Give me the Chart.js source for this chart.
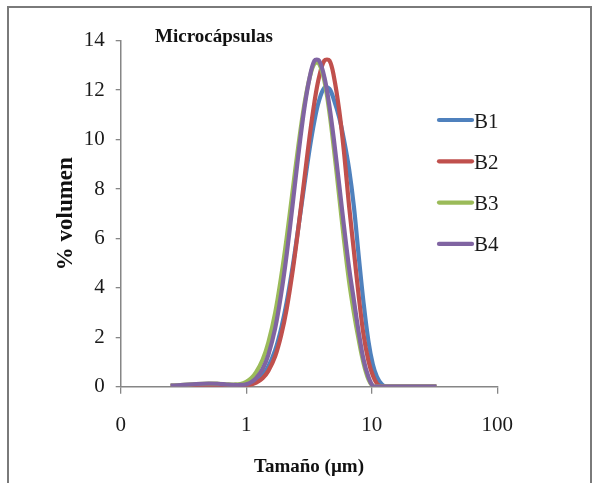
<!DOCTYPE html>
<html>
<head>
<meta charset="utf-8">
<script src="https://cdn.jsdelivr.net/npm/chart.js@4.4.1/dist/chart.umd.min.js"></script>
<style>
body { margin: 0; background: #fff; }
#ChartBox { position: relative; width: 597px; height: 483px; }
</style>
</head>
<body>
<div id="ChartBox"><canvas id="graphCanvas"></canvas></div>
<script>
// particle size classes (µm)
const sizes = [0.25, 0.3, 0.4, 0.5, 0.6, 0.7, 0.8, 0.9, 1.0, 1.1, 1.2, 1.35, 1.5, 1.7, 1.9, 2.1, 2.35, 2.6, 2.9, 3.2,
               3.5, 3.8, 4.2, 4.6, 5.0, 5.5, 6.0, 6.6, 7.2, 7.9, 8.6, 9.4, 10.2, 11, 12, 13, 15, 20, 26, 32.7];

// % volumen per class
const b1 = [0.03, 0.03, 0.04, 0.05, 0.05, 0.05, 0.04, 0.04, 0.07, 0.14, 0.24, 0.47, 0.82, 1.48, 2.37, 3.42, 4.90, 6.43, 8.14, 9.63,
            10.78, 11.57, 12.1, 12.05, 11.6, 10.9, 10.0, 8.8, 7.3, 5.2, 3.4, 1.85, 0.9, 0.4, 0.1, 0, 0, 0, 0, 0];
const b2 = [0.03, 0.03, 0.04, 0.05, 0.05, 0.05, 0.04, 0.04, 0.04, 0.09, 0.16, 0.34, 0.64, 1.23, 2.09, 3.15, 4.72, 6.41, 8.37, 10.14,
            11.54, 12.52, 13.2, 13.2, 12.53, 11.19, 9.53, 7.30, 5.50, 3.60, 2.10, 1.05, 0.45, 0.12, 0, 0, 0, 0, 0, 0];
const b3 = [0.04, 0.06, 0.11, 0.13, 0.12, 0.10, 0.09, 0.11, 0.20, 0.35, 0.59, 1.09, 1.79, 2.99, 4.47, 6.03, 7.99, 9.74, 11.40, 12.50,
            13.08, 13.08, 12.36, 11.10, 9.60, 7.71, 5.97, 4.25, 3.00, 1.85, 0.95, 0.30, 0.02, 0, 0, 0, 0, 0, 0, 0];
const b4 = [0.04, 0.06, 0.11, 0.13, 0.12, 0.09, 0.07, 0.07, 0.10, 0.19, 0.35, 0.72, 1.29, 2.36, 3.77, 5.35, 7.43, 9.37, 11.24, 12.51,
            13.2, 13.2, 12.51, 11.35, 9.97, 8.18, 6.51, 4.80, 3.51, 2.15, 1.10, 0.40, 0.03, 0, 0, 0, 0, 0, 0, 0];

const seriesNames = ['B1', 'B2', 'B3', 'B4'];
const seriesValues = [b1, b2, b3, b4];
const seriesColors = ['#4F81BD', '#C0504D', '#9BBB59', '#8064A2'];

const xTicks = [0.1, 1, 10, 100];
const xTickLabels = ['0', '1', '10', '100'];

const serif = "'Liberation Serif', 'Times New Roman', serif";
const axisGray = '#868686';

const datasets = seriesNames.map((name, k) => ({
    label: name,
    data: sizes.map((s, i) => ({ x: s, y: seriesValues[k][i] })),
    borderColor: seriesColors[k],
    backgroundColor: seriesColors[k],
    borderWidth: 4.2,
    pointRadius: 0,
    fill: false,
    tension: 0.35,
    order: seriesNames.length - k   // B4 drawn on top
}));

// white page + grey frame
const framePlugin = {
    id: 'frame',
    beforeDraw(chart) {
        const c = chart.ctx;
        c.save();
        c.fillStyle = '#fff';
        c.fillRect(0, 0, chart.width, chart.height);
        c.strokeStyle = '#7a7a7a';
        c.lineWidth = 2;
        c.strokeRect(8, 7, 583, 520);
        c.restore();
    }
};

// chart title inside the plot + legend on the right
const overlayPlugin = {
    id: 'overlay',
    afterDraw(chart) {
        const c = chart.ctx;
        c.save();
        c.fillStyle = '#111';
        c.font = 'bold 19px ' + serif;
        c.textAlign = 'left';
        c.textBaseline = 'alphabetic';
        c.fillText('Microcápsulas', 155, 42);

        c.font = '21px ' + serif;
        c.textBaseline = 'middle';
        seriesNames.forEach((name, k) => {
            const y = 120 + k * 41.3;
            c.strokeStyle = seriesColors[k];
            c.lineWidth = 4.2;
            c.lineCap = 'round';
            c.beginPath();
            c.moveTo(439, y);
            c.lineTo(472, y);
            c.stroke();
            c.fillStyle = '#1a1a1a';
            c.fillText(name, 474, y + 2);
        });
        c.restore();
    }
};

const ctx = document.getElementById('graphCanvas');
const myChart = new Chart(ctx, {
    type: 'line',
    data: { datasets: datasets },
    options: {
        responsive: true,
        maintainAspectRatio: false,
        animation: false,
        layout: { padding: { top: 40.7, right: 99.7, left: 0, bottom: 0 } },
        plugins: {
            legend: { display: false },
            tooltip: { enabled: false }
        },
        scales: {
            x: {
                type: 'logarithmic',
                min: 0.1,
                max: 100,
                afterBuildTicks: (scale) => { scale.ticks = xTicks.map(v => ({ value: v })); },
                afterFit: (scale) => { scale.height = 96.3; },
                ticks: {
                    autoSkip: false,
                    maxRotation: 0,
                    padding: 19,
                    color: '#1a1a1a',
                    font: { family: serif, size: 21 },
                    callback: (v) => xTickLabels[xTicks.indexOf(v)]
                },
                grid: { drawOnChartArea: false, tickLength: 7, color: axisGray, lineWidth: 1.3 },
                border: { color: axisGray, width: 1.5 },
                title: {
                    display: true,
                    text: 'Tamaño (µm)',
                    color: '#111',
                    font: { family: serif, size: 19, weight: 'bold' },
                    padding: { top: 0, bottom: 4.6 }
                }
            },
            y: {
                min: 0,
                max: 14,
                afterFit: (scale) => { scale.width = 120.7; },
                ticks: {
                    stepSize: 2,
                    padding: 11,
                    color: '#1a1a1a',
                    font: { family: serif, size: 21 }
                },
                grid: { drawOnChartArea: false, tickLength: 5, color: axisGray, lineWidth: 1.3 },
                border: { color: axisGray, width: 1.5 },
                title: {
                    display: true,
                    text: '% volumen',
                    color: '#111',
                    font: { family: serif, size: 23, weight: 'bold' },
                    padding: { top: 52.2, bottom: 0 }
                }
            }
        }
    },
    plugins: [framePlugin, overlayPlugin]
});
</script>
</body>
</html>
